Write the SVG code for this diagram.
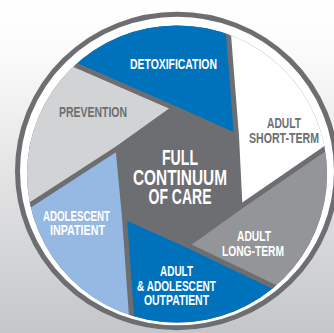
<svg xmlns="http://www.w3.org/2000/svg" width="334" height="333" viewBox="0 0 334 333">
  <defs>
    <linearGradient id="bg" x1="0" y1="0" x2="0" y2="1">
      <stop offset="0" stop-color="#ffffff"/>
      <stop offset="0.15" stop-color="#fbfbfb"/>
      <stop offset="1" stop-color="#c5c6c8"/>
    </linearGradient>
    <clipPath id="inner">
      <ellipse cx="177" cy="174" rx="150" ry="148.5"/>
    </clipPath>
    <style>
      .lbl { font-family: "Liberation Sans", Arial, sans-serif; font-weight: bold; font-size: 14.5px; text-anchor: middle; }
      .ctr { font-family: "Liberation Sans", Arial, sans-serif; font-weight: bold; font-size: 21.5px; text-anchor: middle; fill: #ffffff; }
      .w { fill: #ffffff; }
      .d { fill: #6d6e71; }
      .div { fill: none; stroke: #6d6e71; stroke-width: 5; stroke-linejoin: round; }
    </style>
  </defs>

  <rect x="0" y="0" width="334" height="333" fill="url(#bg)"/>

  <g id="rim">
    <ellipse cx="177" cy="171" rx="159.5" ry="156.8" fill="#ffffff" stroke="#6d6e71" stroke-width="5"/>
  </g>

  <g clip-path="url(#inner)">
    <g id="center">
      <rect x="0" y="0" width="334" height="333" fill="#6d6e71"/>
    </g>
    <g id="prevention">
      <polygon points="-10,28 174,108 118,148 -10,231" fill="#d1d3d4"/>
    </g>
    <g id="detoxification">
      <polygon points="225,-10 236.5,136 174,108 -10,28 -10,-10" fill="#0072bc"/>
    </g>
    <g id="adult-short-term">
      <polygon points="345,135 240,207 236.5,136 225,-10 345,-10" fill="#ffffff"/>
    </g>
    <g id="adult-long-term">
      <polygon points="345,321 187,245 240,207 345,135" fill="#939598"/>
    </g>
    <g id="outpatient">
      <polygon points="133.5,345 124.5,217 187,245 345,321 345,345" fill="#0072bc"/>
    </g>
    <g id="adolescent-inpatient">
      <polygon points="-10,231 118,148 124.5,217 133.5,345 -10,345" fill="#95b9e3"/>
    </g>
    <g id="dividers">
      <path class="div" d="M-10,28 L174,108 L236.5,136"/>
      <path class="div" d="M225,-10 L236.5,136 L240,207"/>
      <path class="div" d="M345,135 L240,207 L187,245"/>
      <path class="div" d="M345,321 L187,245 L124.5,217"/>
      <path class="div" d="M133.5,345 L124.5,217 L118,148"/>
      <path class="div" d="M-10,231 L118,148 L174,108"/>
    </g>
  </g>

  <g id="labels">
    <text class="lbl w" x="173.5" y="69.3" textLength="87" lengthAdjust="spacingAndGlyphs">DETOXIFICATION</text>
    <text class="lbl d" x="93" y="116.7" textLength="68" lengthAdjust="spacingAndGlyphs">PREVENTION</text>
    <text class="lbl d" x="284" y="128" textLength="34" lengthAdjust="spacingAndGlyphs">ADULT</text>
    <text class="lbl d" x="284" y="143" textLength="70" lengthAdjust="spacingAndGlyphs">SHORT-TERM</text>
    <text class="lbl w" x="254" y="241" textLength="34" lengthAdjust="spacingAndGlyphs">ADULT</text>
    <text class="lbl w" x="253" y="256" textLength="62" lengthAdjust="spacingAndGlyphs">LONG-TERM</text>
    <text class="lbl w" x="176.5" y="276" textLength="33" lengthAdjust="spacingAndGlyphs">ADULT</text>
    <text class="lbl w" x="176.5" y="291" textLength="79" lengthAdjust="spacingAndGlyphs">&amp; ADOLESCENT</text>
    <text class="lbl w" x="176.5" y="305" textLength="65" lengthAdjust="spacingAndGlyphs">OUTPATIENT</text>
    <text class="lbl w" x="76.5" y="221" textLength="67" lengthAdjust="spacingAndGlyphs">ADOLESCENT</text>
    <text class="lbl w" x="77.5" y="235" textLength="55" lengthAdjust="spacingAndGlyphs">INPATIENT</text>
    <text class="ctr" x="180" y="165" textLength="36" lengthAdjust="spacingAndGlyphs">FULL</text>
    <text class="ctr" x="180" y="185" textLength="94" lengthAdjust="spacingAndGlyphs">CONTINUUM</text>
    <text class="ctr" x="180" y="204" textLength="63" lengthAdjust="spacingAndGlyphs">OF CARE</text>
  </g>
</svg>
